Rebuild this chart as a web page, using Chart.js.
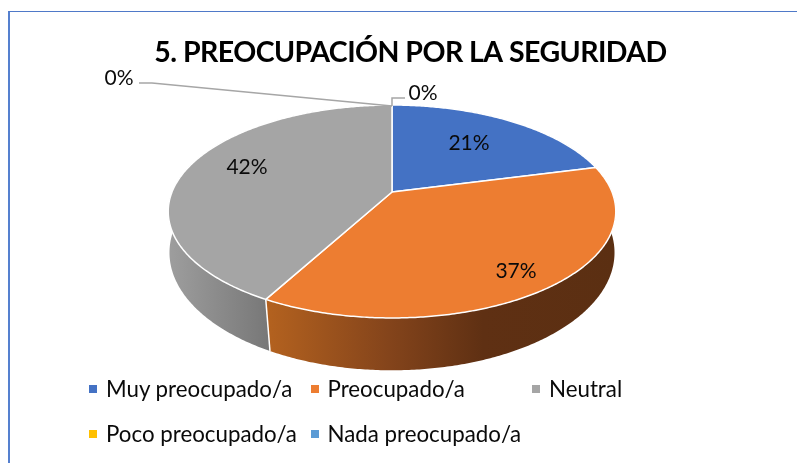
<!DOCTYPE html>
<html lang="es">
<head>
<meta charset="utf-8">
<title>Preocupación por la seguridad</title>
<script src="https://cdn.jsdelivr.net/npm/chart.js@4"></script>
<style>
    html, body { margin: 0; background: #fff; overflow: hidden; }
    #page { position: relative; width: 797px; height: 463px; font-family: Lato, sans-serif; }
    #marco { position: absolute; left: 8px; top: 11px; right: 0; bottom: 0; border-left: 2.5px solid #5580cf; border-top: 1.5px solid #4f79c8; }
    canvas { position: absolute; left: 0; top: 0; }
    #leyenda { position: absolute; left: 89px; top: 366px; display: grid; grid-template-columns: 221.5px 221.5px 200px; grid-auto-rows: 45px; font-size: 22.3px; color: #0a0a0a; }
    #leyenda div { display: flex; align-items: center; white-space: nowrap; }
    #leyenda i { width: 8px; height: 8px; margin-right: 9px; display: block; }
</style>
</head>
<body>
<div id="page">
    <div id="marco"></div>
    <canvas id="grafico" width="797" height="463"></canvas>
    <div id="leyenda"></div>
</div>
<script>
const categorias = ['Muy preocupado/a', 'Preocupado/a', 'Neutral', 'Poco preocupado/a', 'Nada preocupado/a'];
const porcentajes = [21, 37, 42, 0, 0];
const colores = ['#4472C4', '#ED7D31', '#A5A5A5', '#FFC000', '#5B9BD5'];
const titulo = '5. PREOCUPACIÓN POR LA SEGURIDAD';

// geometria do disco em perspectiva
const disco = { cx: 392, cy: 192, a: 220, b: 102.9, k: -0.183 };
const base = { cx: 392, cy: 235, a: 220, b: 115, k: -0.15 };
const posEtiquetas = [[469, 143], [516, 271], [247, 167], [119, 78], [423, 93]];

function proj(d, t, r = 1) {
    const u = Math.sin(t) * r, v = -Math.cos(t) * r, w = 1 + d.k * v;
    return [d.cx + d.a * u / w, d.cy + d.b * v / w];
}

function trazarBorde(ctx, d, t0, t1, inverso) {
    const n = Math.max(2, Math.ceil((t1 - t0) / 0.01));
    for (let i = 0; i <= n; i++) {
        const t = inverso ? t1 - (t1 - t0) * i / n : t0 + (t1 - t0) * i / n;
        const p = proj(d, t);
        ctx.lineTo(p[0], p[1]);
    }
}

function gradienteLateral(ctx, i) {
    if (i === 1) {
        const g = ctx.createLinearGradient(266, 0, 616, 0);
        g.addColorStop(0, '#b4621f');
        g.addColorStop(0.35, '#84441b');
        g.addColorStop(0.62, '#5f3013');
        g.addColorStop(1, '#5b2f12');
        return g;
    }
    if (i === 2) {
        const g = ctx.createLinearGradient(168, 0, 270, 0);
        g.addColorStop(0, '#9e9e9e');
        g.addColorStop(1, '#777777');
        return g;
    }
    return colores[i];
}

const pastel3d = {
    id: 'pastel3d',
    beforeDraw(chart) {
        // o titulo original e mais alto e mais apertado
        chart.ctx.letterSpacing = '-0.55px';
    },
    beforeDatasetDraw(chart) {
        const ctx = chart.ctx;
        const arcos = chart.getDatasetMeta(0).data;
        const ang = arcos.map(a => [a.startAngle + Math.PI / 2, a.endAngle + Math.PI / 2]);
        ctx.save();
        ctx.lineJoin = 'round';

        // lateral: primeiro o que fica atrás
        [0, 2, 1].forEach(i => {
            const [t0, t1] = ang[i];
            ctx.beginPath();
            trazarBorde(ctx, disco, t0, t1, false);
            trazarBorde(ctx, base, t0, t1, true);
            ctx.closePath();
            ctx.fillStyle = gradienteLateral(ctx, i);
            ctx.fill();
        });
        const corte = ang[1][1];
        const p0 = proj(disco, corte), p1 = proj(base, corte);
        ctx.strokeStyle = '#fff';
        ctx.lineWidth = 1.5;
        ctx.beginPath();
        ctx.moveTo(p0[0], p0[1]);
        ctx.lineTo(p1[0], p1[1]);
        ctx.stroke();

        // face de cima
        arcos.forEach((a, i) => {
            if (porcentajes[i] === 0) return;
            const [t0, t1] = ang[i];
            ctx.beginPath();
            ctx.moveTo(disco.cx, disco.cy);
            trazarBorde(ctx, disco, t0, t1, false);
            ctx.closePath();
            ctx.fillStyle = colores[i];
            ctx.fill();
            ctx.strokeStyle = '#fff';
            ctx.lineWidth = 1.5;
            ctx.stroke();
        });
        ctx.restore();
        return false;
    },
    afterDatasetsDraw(chart) {
        const ctx = chart.ctx;
        ctx.save();
        ctx.letterSpacing = '0px';
        // linhas guia dos 0%
        ctx.strokeStyle = '#a6a6a6';
        ctx.lineWidth = 1.5;
        ctx.beginPath();
        ctx.moveTo(139, 83);
        ctx.lineTo(152, 83);
        ctx.lineTo(392, 106);
        ctx.moveTo(392, 106);
        ctx.lineTo(392, 98);
        ctx.lineTo(405, 98);
        ctx.stroke();

        ctx.fillStyle = '#0a0a0a';
        ctx.font = '21px Lato, sans-serif';
        ctx.textAlign = 'center';
        ctx.textBaseline = 'middle';
        porcentajes.forEach((v, i) => {
            ctx.fillText(v + '%', posEtiquetas[i][0], posEtiquetas[i][1]);
        });
        ctx.restore();
    }
};

const chart = new Chart(document.getElementById('grafico'), {
    type: 'pie',
    data: {
        labels: categorias,
        datasets: [{ data: porcentajes, backgroundColor: colores }]
    },
    options: {
        responsive: false,
        animation: false,
        layout: { padding: { left: 24 } },
        plugins: {
            legend: { display: false },
            tooltip: { enabled: false },
            title: {
                display: true,
                text: titulo,
                color: '#000',
                font: { family: 'Lato, sans-serif', size: 28.5, weight: 'bold' },
                padding: { top: 36, bottom: 10 }
            }
        }
    },
    plugins: [pastel3d]
});

// leyenda em html, na mesma grade do original
const leyenda = document.getElementById('leyenda');
categorias.forEach((nombre, i) => {
    const item = document.createElement('div');
    const marca = document.createElement('i');
    marca.style.background = colores[i];
    item.appendChild(marca);
    item.appendChild(document.createTextNode(nombre));
    leyenda.appendChild(item);
});
</script>
</body>
</html>
